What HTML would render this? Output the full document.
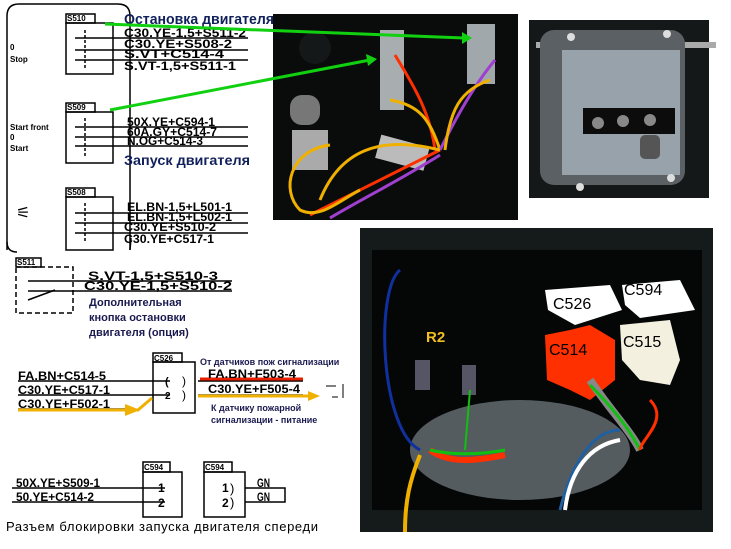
<!DOCTYPE html>
<html><head><meta charset="utf-8"><style>
html,body{margin:0;padding:0;background:#fff;}
svg{display:block;font-family:"Liberation Sans","DejaVu Sans",sans-serif;}
.m{font-size:12px;font-weight:bold;fill:#000;}
.s{font-size:8px;font-weight:bold;fill:#000;}
</style></head><body>
<svg width="731" height="549" viewBox="0 0 731 549" xmlns="http://www.w3.org/2000/svg">
<rect width="731" height="549" fill="#fff"/>
<!-- outline -->
<path d="M7,250 L7,16 Q7,4 19,4 L118,4 Q130,4 130,16 L130,250" fill="none" stroke="#000" stroke-width="1.5"/>
<path d="M7,242 Q7,252 17,252" fill="none" stroke="#000" stroke-width="1.5"/>
<text class="s" x="10" y="50">0</text><text class="s" x="10" y="62">Stop</text>
<text class="s" x="10" y="130">Start front</text><text class="s" x="10" y="140">0</text><text class="s" x="10" y="151">Start</text>
<text x="16" y="218" font-size="16" fill="#000">⚟</text>

<g stroke="#000" fill="none" stroke-width="1.5">
<rect x="66" y="14" width="29" height="9" fill="#fff"/><rect x="66" y="23" width="47" height="51"/>
<line x1="75" y1="38" x2="248" y2="38"/><line x1="75" y1="50" x2="248" y2="50"/><line x1="75" y1="60" x2="248" y2="60"/>
<line x1="85" y1="30" x2="85" y2="70" stroke-dasharray="3,2"/>
<rect x="66" y="103" width="29" height="9" fill="#fff"/><rect x="66" y="112" width="47" height="51"/>
<line x1="75" y1="127" x2="248" y2="127"/><line x1="75" y1="137" x2="248" y2="137"/><line x1="75" y1="146" x2="248" y2="146"/>
<line x1="85" y1="118" x2="85" y2="158" stroke-dasharray="3,2"/>
<rect x="66" y="188" width="29" height="9" fill="#fff"/><rect x="66" y="197" width="47" height="53"/>
<line x1="75" y1="213" x2="248" y2="213"/><line x1="75" y1="223" x2="248" y2="223"/><line x1="75" y1="233" x2="248" y2="233"/>
<line x1="85" y1="203" x2="85" y2="243" stroke-dasharray="3,2"/>
<line x1="131" y1="238" x2="130" y2="250"/>
</g>
<text class="s" x="67" y="21">S510</text><text class="s" x="67" y="110">S509</text><text class="s" x="67" y="195">S508</text>
<g class="m" lengthAdjust="spacingAndGlyphs">
<text x="124" y="37" textLength="122" lengthAdjust="spacingAndGlyphs">C30.YE-1,5+S511-2</text>
<text x="124" y="48" textLength="108" lengthAdjust="spacingAndGlyphs">C30.YE+S508-2</text>
<text x="124" y="58" textLength="100" lengthAdjust="spacingAndGlyphs">S.VT+C514-4</text>
<text x="124" y="70" textLength="112" lengthAdjust="spacingAndGlyphs">S.VT-1,5+S511-1</text>
<text x="127" y="126" textLength="88" lengthAdjust="spacingAndGlyphs">50X.YE+C594-1</text>
<text x="127" y="136" textLength="90" lengthAdjust="spacingAndGlyphs">60A.GY+C514-7</text>
<text x="127" y="145" textLength="76" lengthAdjust="spacingAndGlyphs">N.OG+C514-3</text>
<text x="127" y="211" textLength="105" lengthAdjust="spacingAndGlyphs">EL.BN-1,5+L501-1</text>
<text x="127" y="221" textLength="105" lengthAdjust="spacingAndGlyphs">EL.BN-1,5+L502-1</text>
<text x="124" y="231" textLength="92" lengthAdjust="spacingAndGlyphs">C30.YE+S510-2</text>
<text x="124" y="243" textLength="90" lengthAdjust="spacingAndGlyphs">C30.YE+C517-1</text>
</g>
<text x="124" y="24" font-size="15" font-weight="bold" fill="#10205a" textLength="150" lengthAdjust="spacingAndGlyphs">Остановка двигателя</text>
<text x="124" y="165" font-size="14" font-weight="bold" fill="#10205a" textLength="126" lengthAdjust="spacingAndGlyphs">Запуск двигателя</text>

<!-- S511 -->
<rect x="16" y="258" width="25" height="9" fill="#fff" stroke="#000" stroke-width="1.5"/>
<text class="s" x="17" y="265">S511</text>
<rect x="16" y="267" width="57" height="46" fill="none" stroke="#000" stroke-width="1.5" stroke-dasharray="5,3"/>
<line x1="28" y1="281" x2="232" y2="281" stroke="#000" stroke-width="1.5"/>
<line x1="28" y1="291" x2="232" y2="291" stroke="#000" stroke-width="1.5"/>
<line x1="28" y1="300" x2="55" y2="290" stroke="#000" stroke-width="1.5"/>
<text class="m" x="88" y="280" textLength="130" lengthAdjust="spacingAndGlyphs">S.VT-1,5+S510-3</text>
<text class="m" x="84" y="290" textLength="148" lengthAdjust="spacingAndGlyphs">C30.YE-1,5+S510-2</text>
<g font-size="11" font-weight="bold" fill="#1a1a50">
<text x="89" y="306">Дополнительная</text><text x="89" y="321">кнопка остановки</text><text x="89" y="336">двигателя (опция)</text></g>

<!-- C526 -->
<rect x="153" y="353" width="29" height="9" fill="#fff" stroke="#000" stroke-width="1.5"/>
<text class="s" x="154" y="361">C526</text>
<rect x="153" y="362" width="42" height="51" fill="none" stroke="#000" stroke-width="1.5"/>
<g stroke="#000" stroke-width="1.5"><line x1="18" y1="381" x2="170" y2="381"/><line x1="18" y1="395" x2="170" y2="395"/><line x1="18" y1="409" x2="130" y2="409"/><line x1="198" y1="381" x2="303" y2="381"/><line x1="198" y1="395" x2="303" y2="395"/></g>
<line x1="200" y1="379" x2="303" y2="379" stroke="#e82000" stroke-width="3"/>
<path d="M18,410 L138,410 L152,398" fill="none" stroke="#f0b000" stroke-width="3"/>
<polygon points="125,404 140,410 125,416" fill="#f0b000"/>
<line x1="198" y1="396" x2="310" y2="396" stroke="#f0b000" stroke-width="3"/>
<polygon points="308,391 320,396 308,401" fill="#f0b000"/>
<text class="m" x="18" y="380" textLength="88" lengthAdjust="spacingAndGlyphs">FA.BN+C514-5</text>
<text class="m" x="18" y="394" textLength="92" lengthAdjust="spacingAndGlyphs">C30.YE+C517-1</text>
<text class="m" x="18" y="408" textLength="92" lengthAdjust="spacingAndGlyphs">C30.YE+F502-1</text>
<text class="m" x="208" y="378" textLength="88" lengthAdjust="spacingAndGlyphs">FA.BN+F503-4</text>
<text class="m" x="208" y="393" textLength="92" lengthAdjust="spacingAndGlyphs">C30.YE+F505-4</text>
<text x="165" y="385" font-size="11" font-weight="bold">(</text><text x="165" y="399" font-size="10" font-weight="bold">2</text>
<text x="182" y="385" font-size="12">)</text><text x="182" y="399" font-size="12">)</text>
<g font-size="9" font-weight="bold" fill="#1a1a50">
<text x="200" y="365">От датчиков пож сигнализации</text>
<text x="211" y="411">К датчику пожарной</text><text x="211" y="423">сигнализации - питание</text></g>
<line x1="326" y1="386" x2="336" y2="386" stroke="#000"/><line x1="332" y1="397" x2="338" y2="397" stroke="#000"/><line x1="343" y1="384" x2="343" y2="398" stroke="#000"/>

<!-- C594 -->
<g stroke="#000" stroke-width="1.5" fill="none">
<rect x="143" y="462" width="27" height="10" fill="#fff"/><rect x="143" y="472" width="39" height="45"/>
<rect x="204" y="462" width="28" height="10" fill="#fff"/><rect x="204" y="472" width="41" height="45"/>
<line x1="12" y1="488" x2="165" y2="488"/><line x1="12" y1="502" x2="165" y2="502"/>
<path d="M245,488 H285 V502 H245"/></g>
<text class="s" x="144" y="470">C594</text><text class="s" x="205" y="470">C594</text>
<text class="m" x="16" y="487" textLength="84" lengthAdjust="spacingAndGlyphs">50X.YE+S509-1</text>
<text class="m" x="16" y="501" textLength="78" lengthAdjust="spacingAndGlyphs">50.YE+C514-2</text>
<text class="m" x="158" y="492">1</text><text class="m" x="158" y="507">2</text>
<text class="m" x="222" y="492">1</text><text class="m" x="222" y="507">2</text>
<text x="230" y="493" font-size="13">)</text><text x="230" y="507" font-size="13">)</text>
<text class="m" x="257" y="487" textLength="13" lengthAdjust="spacingAndGlyphs">GN</text><text class="m" x="257" y="501" textLength="13" lengthAdjust="spacingAndGlyphs">GN</text>
<text x="6" y="531" font-size="13" fill="#000" textLength="312">Разъем блокировки запуска двигателя спереди</text>

<!-- Photo 1 -->
<rect x="273" y="14" width="245" height="206" fill="#0a0c0c"/>
<circle cx="315" cy="48" r="16" fill="#151818"/>
<rect x="380" y="30" width="24" height="80" fill="#a8aeb0"/>
<rect x="467" y="24" width="28" height="60" fill="#a0a8ac"/>
<rect x="290" y="95" width="30" height="30" rx="12" fill="#777"/>
<rect x="292" y="130" width="36" height="40" fill="#aaa"/>
<rect x="378" y="140" width="50" height="24" fill="#bbb" transform="rotate(15 400 150)"/>
<g fill="none" stroke-width="3">
<path d="M395,55 C410,80 430,110 435,150" stroke="#ff3000"/>
<path d="M390,100 C420,105 430,120 440,150" stroke="#f0b000"/>
<path d="M495,60 C470,90 450,130 440,150" stroke="#a040d0"/>
<path d="M490,80 C460,90 450,110 445,150" stroke="#f0b000"/>
<path d="M440,150 C400,170 340,200 310,215" stroke="#ff3000"/>
<path d="M440,155 C400,180 360,200 330,218" stroke="#a040d0"/>
<path d="M330,145 C290,150 280,190 300,210 C320,220 340,200 360,190" stroke="#f0b000"/>
<path d="M440,150 C380,135 340,150 320,200" stroke="#f0b000"/>
</g>
<line x1="105" y1="24" x2="464" y2="38" stroke="#10d010" stroke-width="3"/>
<polygon points="462,32 472,38 462,44" fill="#10d010"/>
<line x1="110" y1="110" x2="370" y2="60" stroke="#10d010" stroke-width="3"/>
<polygon points="366,54 377,59 368,66" fill="#10d010"/>

<!-- Photo 2 -->
<rect x="529" y="20" width="180" height="178" fill="#141818"/>
<rect x="536" y="42" width="180" height="6" fill="#aaa"/>
<rect x="540" y="30" width="145" height="155" rx="14" fill="#5a6064"/>
<rect x="562" y="50" width="118" height="125" fill="#97a2aa"/>
<rect x="583" y="108" width="92" height="26" fill="#0c0c0c"/>
<circle cx="598" cy="123" r="6" fill="#888"/><circle cx="623" cy="121" r="6" fill="#888"/><circle cx="650" cy="120" r="6" fill="#888"/>
<rect x="640" y="135" width="20" height="24" rx="5" fill="#555"/>
<circle cx="571" cy="37" r="4" fill="#ddd"/><circle cx="667" cy="34" r="4" fill="#ddd"/><circle cx="580" cy="187" r="4" fill="#ddd"/><circle cx="671" cy="178" r="4" fill="#ddd"/>

<!-- Photo 3 -->
<rect x="360" y="228" width="353" height="304" fill="#151a1a"/>
<rect x="372" y="250" width="330" height="260" fill="#050606"/>
<ellipse cx="520" cy="450" rx="110" ry="50" fill="#555c60"/>
<rect x="415" y="360" width="15" height="30" fill="#556"/><rect x="462" y="365" width="14" height="30" fill="#556"/>
<polygon points="545,290 610,285 622,310 575,325 548,310" fill="#fff"/>
<polygon points="622,285 680,280 695,310 640,318 625,305" fill="#fff"/>
<polygon points="620,325 670,320 680,360 670,385 640,380 622,360" fill="#f4f0e0"/>
<polygon points="545,335 570,330 590,325 615,340 615,380 590,400 570,390 547,380" fill="#ff3000"/>
<g fill="none" stroke-width="4">
<path d="M400,270 C375,290 380,430 420,450" stroke="#1030a0" stroke-width="3"/>
<path d="M430,450 C450,465 480,460 505,455" stroke="#ff3000" stroke-width="6"/>
<path d="M430,450 C450,455 480,455 505,450" stroke="#10c010" stroke-width="3"/>
<path d="M420,455 C410,480 405,500 405,532" stroke="#f0b000"/>
<path d="M590,380 C610,410 630,430 640,450" stroke="#888" stroke-width="8"/>
<path d="M590,385 C615,410 630,430 640,450" stroke="#10c010" stroke-width="3"/>
<path d="M620,430 C590,430 570,470 560,510" stroke="#2060a0" stroke-width="3"/>
<path d="M620,440 C590,445 570,470 565,510" stroke="#fff"/>
<path d="M650,400 C670,420 640,440 640,450" stroke="#ff3000" stroke-width="3"/>
<path d="M470,390 L465,450" stroke="#10c010" stroke-width="2"/>
</g>
<g font-size="16" fill="#000"><text x="553" y="309">C526</text><text x="624" y="295">C594</text><text x="623" y="347">C515</text><text x="549" y="355">C514</text></g>
<text x="426" y="342" font-size="15" font-weight="bold" fill="#f0c020">R2</text>
</svg>
</body></html>
